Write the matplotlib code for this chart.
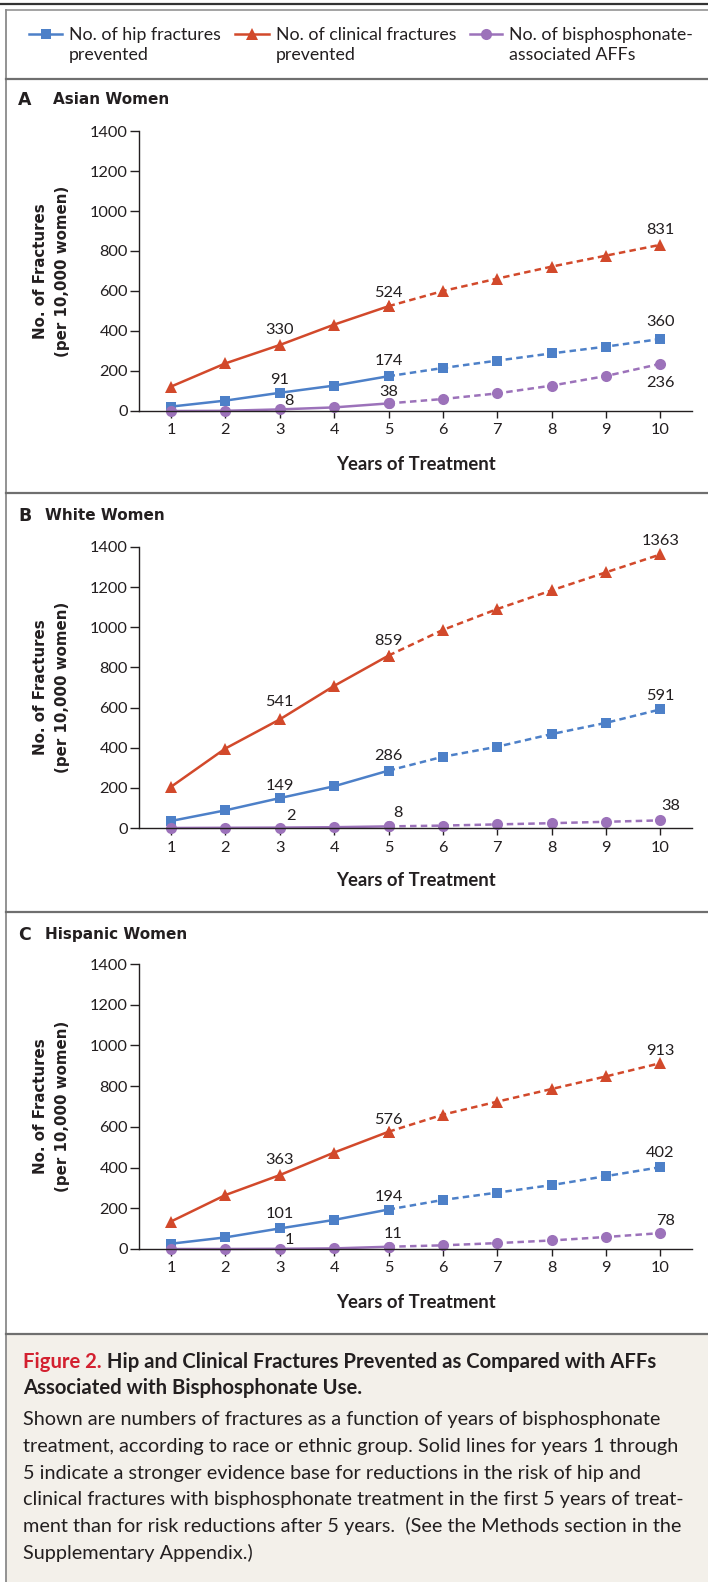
import matplotlib.pyplot as plt
from matplotlib.patches import Rectangle

plt.rcParams['font.family'] = ['Lato', 'DejaVu Sans']

# Data (no. of fractures per 10,000 women)
years = [1, 2, 3, 4, 5, 6, 7, 8, 9, 10]

asian_hip = [22, 52, 91, 127, 174, 215, 252, 288, 322, 360]
asian_clinical = [122, 238, 330, 432, 524, 600, 662, 722, 777, 831]
asian_aff = [0, 1, 8, 18, 38, 60, 88, 127, 175, 236]

white_hip = [35, 88, 149, 208, 286, 355, 405, 468, 524, 591]
white_clinical = [205, 396, 541, 708, 859, 987, 1091, 1184, 1274, 1363]
white_aff = [0, 1, 2, 4, 8, 12, 18, 24, 31, 38]

hispanic_hip = [26, 57, 101, 143, 194, 241, 277, 314, 358, 402]
hispanic_clinical = [135, 265, 363, 474, 576, 660, 724, 786, 848, 913]
hispanic_aff = [0, 0, 1, 3, 11, 18, 29, 42, 59, 78]

y_ticks = [0, 200, 400, 600, 800, 1000, 1200, 1400]

legend_labels = ['No. of hip fractures\nprevented',
                 'No. of clinical fractures\nprevented',
                 'No. of bisphosphonate-\nassociated AFFs']

panel_letters = ['A', 'B', 'C']
panel_titles = ['Asian Women', 'White Women', 'Hispanic Women']

BLUE = '#4d80c8'
RED = '#d2492b'
PURPLE = '#9c72ba'
DARK = '#231f20'

# styles per series: colour, marker, marker size
styles = {
    'clinical': (RED, '^', 8),
    'hip': (BLUE, 's', 7.5),
    'aff': (PURPLE, 'o', 8),
}

# which points carry a value label, and where (offset in pixels)
label_spots = [
    {'clinical': [(3, 0, 15), (5, 0, 13), (10, 0, 15)],
     'hip': [(3, 0, 13), (5, 0, 15), (10, 0, 17)],
     'aff': [(3, 9, 8), (5, 0, 11), (10, 0, -19)]},
    {'clinical': [(3, 0, 17), (5, 0, 15), (10, 0, 13)],
     'hip': [(3, 0, 12), (5, 0, 15), (10, 0, 13)],
     'aff': [(3, 11, 12), (5, 9, 13), (10, 10, 14)]},
    {'clinical': [(3, 0, 15), (5, 0, 12), (10, 0, 12)],
     'hip': [(3, 0, 14), (5, 0, 13), (10, 0, 14)],
     'aff': [(3, 10, 9), (5, 5, 13), (10, 5, 12)]},
]

panels = [
    {'clinical': asian_clinical, 'hip': asian_hip, 'aff': asian_aff},
    {'clinical': white_clinical, 'hip': white_hip, 'aff': white_aff},
    {'clinical': hispanic_clinical, 'hip': hispanic_hip, 'aff': hispanic_aff},
]

W, H = 708, 1582
fig = plt.figure(figsize=(W / 100, H / 100), dpi=100)

# background layer in pixel coordinates for frame, legend and caption
bg = fig.add_axes([0, 0, 1, 1], zorder=0)
bg.set_xlim(0, W)
bg.set_ylim(H, 0)
bg.axis('off')

bg.plot([0, W], [4, 4], color='#333333', lw=1.6)
bg.plot([5.5, W], [10, 10], color='#8a8a8a', lw=1.1)
bg.plot([5.5, 5.5], [10, H], color='#8a8a8a', lw=1.3)
bg.add_patch(Rectangle((6, 1335), W - 6, H - 1335, color='#f3f0ea', lw=0))
for y in [79, 493, 912, 1334]:
    bg.plot([5.5, W], [y, y], color='#6f6f6f', lw=1.6)

# legend
leg_keys = [(29, 62, 'hip'), (235, 269, 'clinical'), (470, 502, 'aff')]
for (x0, x1, key), lab in zip(leg_keys, legend_labels):
    col, mk, ms = styles[key]
    bg.plot([x0, x1], [34, 34], color=col, lw=1.8)
    bg.plot([(x0 + x1) / 2], [34], color=col, marker=mk, ms=ms, mew=0)
    bg.text(x1 + 7, 45, lab, fontsize=12.8, color=DARK, va='center', ha='left',
            linespacing=1.38)

# axes boxes (top, bottom) in pixels
axes_px = [(131, 411), (547, 828), (964, 1249)]
title_y = [100, 516, 935]
title_x = [53, 45, 45]
ax_left, ax_right = 139, 692

for i, (top, bottom) in enumerate(axes_px):
    ax = fig.add_axes([ax_left / W, 1 - bottom / H, (ax_right - ax_left) / W, (bottom - top) / H],
                      zorder=1)
    ax.set_facecolor('none')
    data = panels[i]
    for key in ['clinical', 'hip', 'aff']:
        col, mk, ms = styles[key]
        vals = data[key]
        ax.plot(years[:5], vals[:5], color=col, lw=1.8, marker=mk, ms=ms, mew=0, clip_on=False)
        ax.plot(years[4:], vals[4:], color=col, lw=1.8, marker=mk, ms=ms, mew=0,
                ls=(0, (2.6, 1.7)), clip_on=False)
        for yr, dx, dy in label_spots[i][key]:
            ax.annotate(str(vals[yr - 1]), xy=(yr, vals[yr - 1]), xytext=(dx, dy),
                        textcoords='offset pixels', ha='center', va='center',
                        fontsize=11.8, color=DARK)
    ax.set_xlim(0.412, 10.58)
    ax.set_ylim(0, 1400)
    ax.set_xticks(years)
    ax.set_yticks(y_ticks)
    ax.spines['top'].set_visible(False)
    ax.spines['right'].set_visible(False)
    for s in ['left', 'bottom']:
        ax.spines[s].set_linewidth(1.0)
        ax.spines[s].set_color(DARK)
    ax.tick_params(axis='y', length=6.5, width=1.0, pad=1.5, labelsize=11.8, colors=DARK)
    ax.tick_params(axis='x', length=5, width=1.0, pad=4, labelsize=11.8, colors=DARK)

    mid = (top + bottom) / 2
    bg.text(41, mid, 'No. of Fractures', rotation=90, ha='center', va='center',
            fontsize=10.8, fontweight='bold', family='DejaVu Sans', color=DARK)
    bg.text(63, mid, '(per 10,000 women)', rotation=90, ha='center', va='center',
            fontsize=10.8, fontweight='bold', family='DejaVu Sans', color=DARK)
    bg.text((ax_left + ax_right) / 2, bottom + 53, 'Years of Treatment', ha='center', va='center',
            fontsize=13.3, fontweight='bold', color=DARK)
    bg.text(18, title_y[i], panel_letters[i], ha='left', va='center', fontsize=12.5,
            fontweight='bold', family='DejaVu Sans', color=DARK)
    bg.text(title_x[i], title_y[i], panel_titles[i], ha='left', va='center', fontsize=11,
            fontweight='bold', family='DejaVu Sans', color=DARK)

# caption
t = bg.text(23, 1362, 'Figure 2.', ha='left', va='center', fontsize=14.6,
            fontweight='bold', color='#d3202f')
bg.annotate(' Hip and Clinical Fractures Prevented as Compared with AFFs', xy=(1, 0),
            xycoords=t, ha='left', va='bottom', fontsize=14.6, fontweight='bold', color=DARK)
bg.text(23, 1388, 'Associated with Bisphosphonate Use.', ha='left', va='center',
        fontsize=14.6, fontweight='bold', color=DARK)

body = ['Shown are numbers of fractures as a function of years of bisphosphonate',
        'treatment, according to race or ethnic group. Solid lines for years 1 through',
        '5 indicate a stronger evidence base for reductions in the risk of hip and',
        'clinical fractures with bisphosphonate treatment in the first 5 years of treat-',
        'ment than for risk reductions after 5 years.  (See the Methods section in the',
        'Supplementary Appendix.)']
for k, line in enumerate(body):
    bg.text(23, 1420 + k * 26.6, line, ha='left', va='center', fontsize=14.3, color=DARK)

fig.savefig('out.png', dpi=100)
